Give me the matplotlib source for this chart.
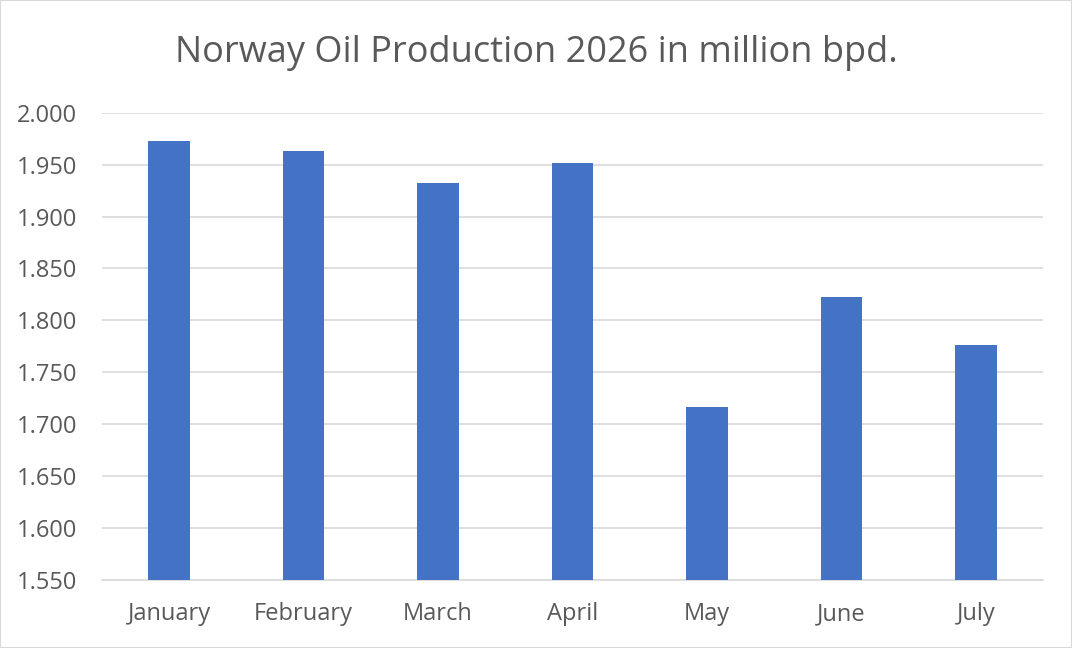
import matplotlib.pyplot as plt
from matplotlib.patches import Rectangle

months = ["January", "February", "March", "April", "May", "June", "July"]
production = [1.973, 1.963, 1.932, 1.952, 1.717, 1.823, 1.776]
yticks = [1.55, 1.60, 1.65, 1.70, 1.75, 1.80, 1.85, 1.90, 1.95, 2.00]

plt.rcParams['font.family'] = ['Open Sans', 'DejaVu Sans']

fig = plt.figure(figsize=(10.72, 6.48), dpi=100)
ax = fig.add_axes([0.0951, 0.105, 0.8779, 0.721])

x = range(len(months))
ax.bar(x, production, width=0.31, color="#4472c4", zorder=3)

ax.set_xlim(-0.5, len(months) - 0.5)
ax.set_ylim(1.55, 2.0)
ax.set_yticks(yticks)
ax.set_yticklabels(["%.3f" % v for v in yticks])
ax.set_xticks(list(x))
ax.set_xticklabels(months)

ax.grid(axis="y", color="#d9d9d9", linewidth=1.2, zorder=0)
for s in ["top", "right", "left"]:
    ax.spines[s].set_visible(False)
ax.spines["bottom"].set_color("#d9d9d9")
ax.spines["bottom"].set_linewidth(1.2)
ax.tick_params(axis="both", length=0, labelsize=17, colors="#595959")
ax.tick_params(axis="y", pad=18)
ax.tick_params(axis="x", pad=16)

fig.text(0.5, 0.918, "Norway Oil Production 2026 in million bpd.",
         ha="center", va="center", fontsize=26, color="#595959")

fig.patches.append(Rectangle((0, 0), 1, 1, transform=fig.transFigure,
                             fill=False, edgecolor="#d9d9d9", linewidth=1.5))

fig.savefig("out.png", dpi=100)
